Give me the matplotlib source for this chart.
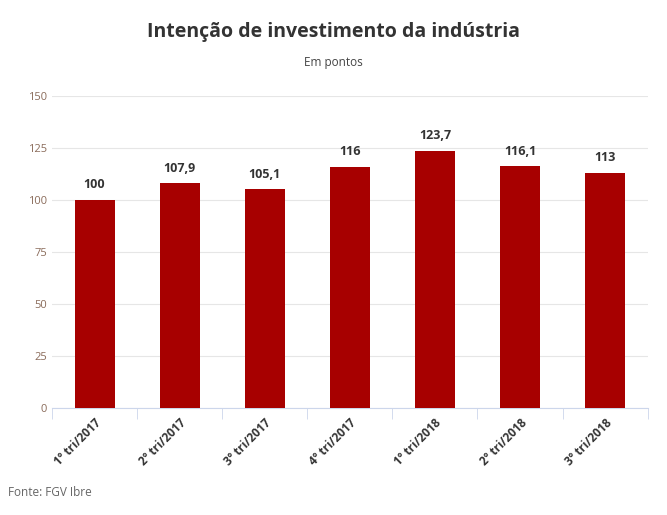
import matplotlib
matplotlib.use("Agg")
import matplotlib.pyplot as plt

categories = ["1º tri/2017", "2º tri/2017", "3º tri/2017", "4º tri/2017", "1º tri/2018", "2º tri/2018", "3º tri/2018"]
values = [100, 107.9, 105.1, 116, 123.7, 116.1, 113]
labels = ["100", "107,9", "105,1", "116", "123,7", "116,1", "113"]
yticks = [0, 25, 50, 75, 100, 125, 150]

plt.rcParams['font.family'] = ['Open Sans', 'DejaVu Sans']
fig = plt.figure(figsize=(6.67, 5.15), dpi=100)
ax = fig.add_axes([0.078, 0.208, 0.893, 0.606])
x = range(len(categories))
ax.bar(x, values, width=0.47, color="#a70000", zorder=3)
for i, (v, l) in enumerate(zip(values, labels)):
    ax.text(i, v + 4, l, ha="center", va="bottom", fontsize=9, fontweight="bold", color="#333333")
ax.set_ylim(0, 150)
ax.set_xlim(-0.5, len(categories) - 0.5)
ax.set_yticks(yticks)
ax.set_yticklabels([str(t) for t in yticks], fontsize=8, color="#8a6b5a")
ax.grid(axis="y", color="#e6e6e6", linewidth=0.8, zorder=0)
ax.set_xticks(list(x))
ax.set_xticklabels(categories, rotation=45, ha="right", rotation_mode="anchor", fontsize=8.5, fontweight="bold", color="#333333")
ax.set_xticks([i + 0.5 for i in range(-1, len(categories))], minor=True)
ax.tick_params(axis="x", which="major", length=0, pad=6)
ax.tick_params(axis="x", which="minor", length=8, color="#ccd6eb")
ax.tick_params(axis="y", length=0)
for s in ["top", "right", "left"]:
    ax.spines[s].set_visible(False)
ax.spines["bottom"].set_color("#ccd6eb")
fig.text(0.5, 0.938, "Intenção de investimento da indústria", ha="center", va="center", fontsize=14, fontweight="bold", color="#333333")
fig.text(0.5, 0.879, "Em pontos", ha="center", va="center", fontsize=8.5, color="#444444")
fig.text(0.012, 0.044, "Fonte: FGV Ibre", ha="left", va="center", fontsize=8.5, color="#666666")
fig.savefig("out.png")
